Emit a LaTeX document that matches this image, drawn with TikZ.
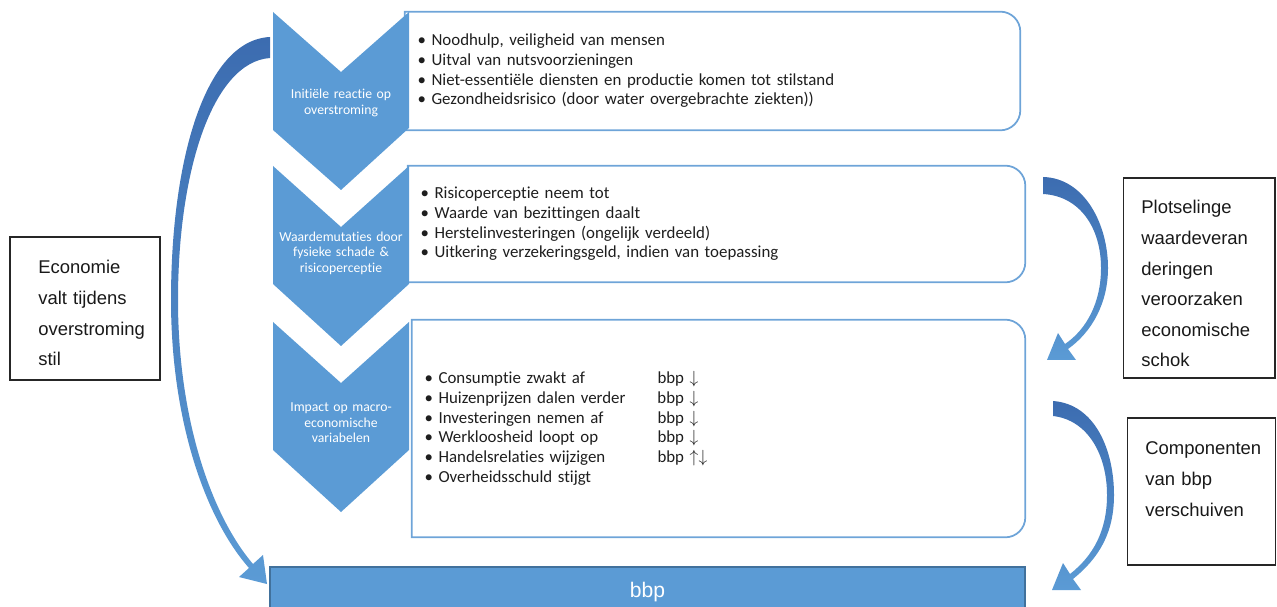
\documentclass[tikz,border=0pt]{standalone}
\usepackage{fontspec}
\setmainfont{Carlito}[Ligatures=NoCommon]
\newfontfamily\arialfont{Liberation Sans}
\usepackage{tikz}
\usetikzlibrary{positioning,calc}
\definecolor{chevBlue}{RGB}{91,155,213}
\definecolor{frameBlue}{RGB}{110,164,216}
\definecolor{arrowDark}{RGB}{60,108,176}
\definecolor{barEdge}{RGB}{65,113,156}
\definecolor{listText}{RGB}{30,30,30}

\begin{document}
\begin{tikzpicture}[x=0.02cm,y=-0.02cm,
    chevtext/.style={font=\fontsize{7.8}{8.8}\selectfont,text=white,align=center,text width=2.6cm,inner sep=0pt},
    listbox/.style={font=\fontsize{9.6}{11.2}\selectfont,text=listText,align=left,inner xsep=0.25cm,inner ysep=0pt},
    frameline/.style={draw=frameBlue,line width=1pt},
    sidebox/.style={draw=black!85,line width=0.6pt,inner sep=0pt},
    sidetext/.style={font=\arialfont\fontsize{10.5}{17.4}\selectfont,text=black!90,align=left,text width=2.5cm,inner sep=0pt,anchor=base west}]
  \useasboundingbox (0,0) rectangle (1277,607);

  % Lists
  \node[listbox,minimum width=12.3cm,minimum height=2.36cm,text width=11.8cm] (reactiebox) at (712.5,71) {%
    \textbullet\ Noodhulp, veiligheid van mensen\\
    \textbullet\ Uitval van nutsvoorzieningen\\
    \textbullet\ Niet-essentiële diensten en productie komen tot stilstand\\
    \textbullet\ Gezondheidsrisico (door water overgebrachte ziekten))};
  \node[listbox,minimum width=12.34cm,minimum height=2.32cm,text width=11.84cm] (waardebox) at (716.5,224) {%
    \textbullet\ Risicoperceptie neem tot\\
    \textbullet\ Waarde van bezittingen daalt\\
    \textbullet\ Herstelinvesteringen (ongelijk verdeeld)\\
    \textbullet\ Uitkering verzekeringsgeld, indien van toepassing};
  \node[listbox,minimum width=12.26cm,minimum height=4.34cm,text width=11.76cm] (macrobox) at (718.5,428.5) {%
    \makebox[4.66cm][l]{\textbullet\ Consumptie zwakt af}bbp $\downarrow$\\
    \makebox[4.66cm][l]{\textbullet\ Huizenprijzen dalen verder}bbp $\downarrow$\\
    \makebox[4.66cm][l]{\textbullet\ Investeringen nemen af}bbp $\downarrow$\\
    \makebox[4.66cm][l]{\textbullet\ Werkloosheid loopt op}bbp $\downarrow$\\
    \makebox[4.66cm][l]{\textbullet\ Handelsrelaties wijzigen}bbp $\uparrow\downarrow$\\
    \textbullet\ Overheidsschuld stijgt};

  % Frames
  \draw[frameline] (reactiebox.north west) -- ([xshift=-0.4cm]reactiebox.north east)
    arc[start angle=90,end angle=0,radius=0.4cm] -- ([yshift=0.4cm]reactiebox.south east)
    arc[start angle=0,end angle=-90,radius=0.4cm] -- (reactiebox.south west) -- cycle;
  \draw[frameline] (waardebox.north west) -- ([xshift=-0.4cm]waardebox.north east)
    arc[start angle=90,end angle=0,radius=0.4cm] -- ([yshift=0.4cm]waardebox.south east)
    arc[start angle=0,end angle=-90,radius=0.4cm] -- (waardebox.south west) -- cycle;
  \draw[frameline] (macrobox.north west) -- ([xshift=-0.4cm]macrobox.north east)
    arc[start angle=90,end angle=0,radius=0.4cm] -- ([yshift=0.4cm]macrobox.south east)
    arc[start angle=0,end angle=-90,radius=0.4cm] -- (macrobox.south west) -- cycle;

  % Chevrons
  \fill[chevBlue] (273,12) -- (341,72) -- (409,12) -- (409,128) -- (341,190) -- (273,130) -- cycle;
  \fill[chevBlue] (273,166) -- (341,227) -- (409,166) -- (409,284) -- (341,346) -- (273,284) -- cycle;
  \fill[chevBlue] (273,322) -- (341,383) -- (409,322) -- (409,450) -- (341,512) -- (273,450) -- cycle;
  \node[chevtext] (reactie) at (341,103) {Initiële reactie op\\overstroming};
  \node[chevtext] (waarde) at (341,253) {Waardemutaties door\\fysieke schade \&\\risicoperceptie};
  \node[chevtext] (macro) at (341,423) {Impact op macro-\\economische\\variabelen};

  % Bar
  \node[draw=barEdge,fill=chevBlue,line width=0.8pt,minimum width=15.1cm,minimum height=1cm,inner sep=0pt,
    font=\arialfont\fontsize{12}{14}\selectfont,text=white] (bbpbar) at (647.5,592) {bbp};

  % Side boxes
  \node[sidebox,minimum width=3cm,minimum height=2.86cm] (stilbox) at (85,308.5) {};
  \node[sidetext] (stiltext) at (38,274) {Economie\\valt tijdens\\overstroming\\stil};
  \node[sidebox,minimum width=3.04cm,minimum height=4cm] (schokbox) at (1199,278) {};
  \node[sidetext] (schoktext) at (1141,214) {Plotselinge\\waardeveran\\deringen\\veroorzaken\\economische\\schok};
  \node[sidebox,minimum width=2.96cm,minimum height=2.94cm] (verschuifbox) at (1201.5,491.5) {};
  \node[sidetext] (verschuiftext) at (1145,455) {Componenten\\van bbp\\verschuiven};

  % Curved arrows
  \shade[top color=arrowDark,bottom color=chevBlue] (270,37) .. controls (205,40) and (171,160) .. (171,300)
    .. controls (171,420) and (205,518) .. (249,568) -- (239,577) -- (267,584) -- (263,555) -- (253,564)
    .. controls (212,516) and (178,420) .. (178,300) .. controls (178,170) and (213,62) .. (270,58) -- cycle;
  \shade[top color=arrowDark,bottom color=chevBlue] (1043,177) .. controls (1085,178) and (1108,225) .. (1108,268)
    .. controls (1108,303) and (1092,332) .. (1068,349) -- (1076,360) -- (1047,360) -- (1058,333) -- (1065,344)
    .. controls (1087,329) and (1101,302) .. (1101,268) .. controls (1101,228) and (1080,196) .. (1043,194) -- cycle;
  \shade[top color=arrowDark,bottom color=chevBlue] (1053,401) .. controls (1095,404) and (1114,450) .. (1114,495)
    .. controls (1114,533) and (1099,558) .. (1073,579) -- (1081,590) -- (1052,590) -- (1063,563) -- (1070,574)
    .. controls (1093,556) and (1107,531) .. (1107,495) .. controls (1107,455) and (1088,420) .. (1053,416) -- cycle;
\end{tikzpicture}
\end{document}
